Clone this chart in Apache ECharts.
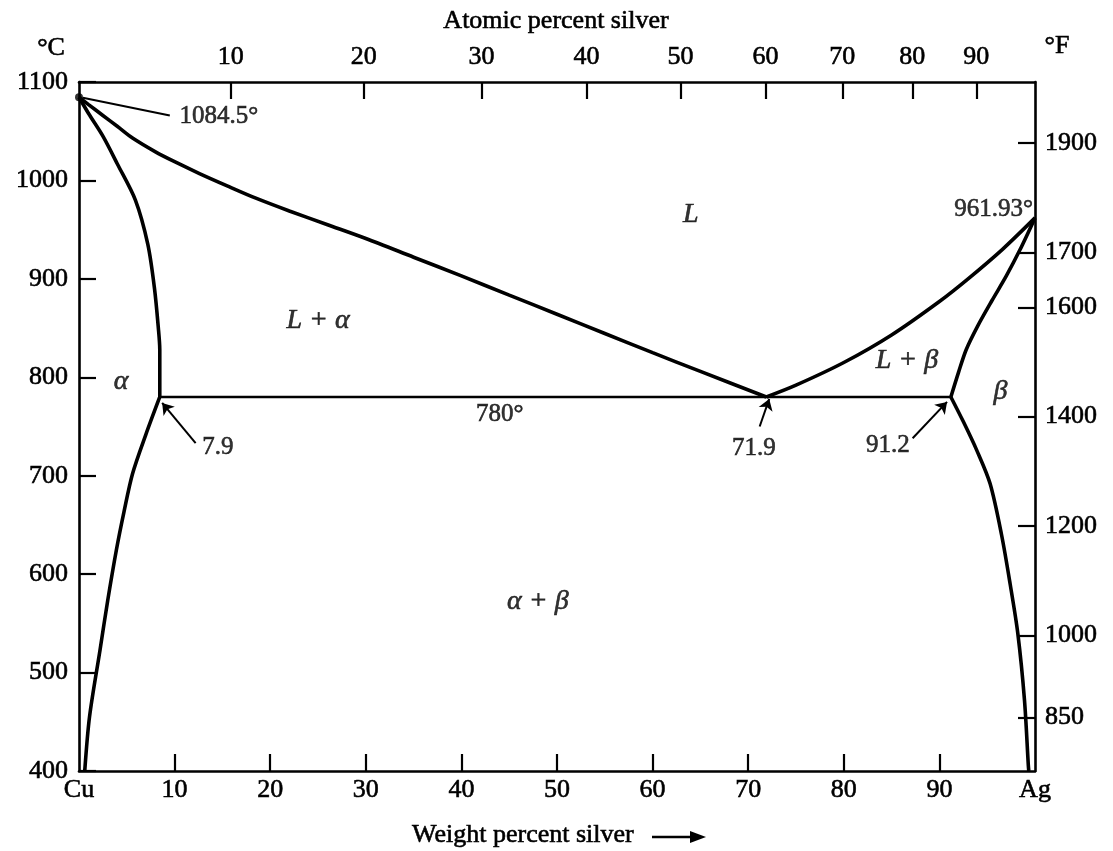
<!DOCTYPE html>
<html><head><meta charset="utf-8">
<script src="https://cdn.jsdelivr.net/npm/echarts@6/dist/echarts.min.js"></script>
<style>html,body{margin:0;padding:0;background:#fff}#c{width:1113px;height:851px}</style>
</head><body><div id="c"></div>
<script>
// ---- axis ticks / labels ----
const wtTickValues = [10,20,30,40,50,60,70,80,90];
const wtLabelValues = [0,10,20,30,40,50,60,70,80,90,100];
const wtEndNames = {0:'Cu', 100:'Ag'};
const atomicTickLabels = [10,20,30,40,50,60,70,80,90];
const fahrenheitTicks = [850,1000,1200,1400,1600,1700,1900];
const M_AG = 107.87, M_CU = 63.55;

// ---- phase boundaries (wt% Ag, °C) ----
const liquidusCu = [[0,1084.5],[1,1077],[2.5,1066],[4,1055],[5.6,1043],[8,1029],[10,1019],[12.6,1007],[15.5,994.5],[18.5,982],[22,969],[26,955],[30,941],[35,922],[40,903],[45,883.5],[50,864],[55,844.5],[60,825],[65,806],[71.9,780]];
const liquidusAg = [[71.9,780],[75,792],[80,815],[85,843],[90,877],[93,900],[96.6,930],[100,961.93]];
const solidusCu = [[0,1084.5],[1,1068],[2.5,1045],[4,1017],[5.9,980],[7.2,935],[7.9,890],[8.3,850],[8.45,828],[8.45,780]];
const solvusCu = [[8.45,780],[7,742],[5.6,702],[4.7,663],[3.9,624],[3,573],[2.2,523],[1.1,455],[0.6,400]];
const solidusAg = [[91.2,780],[92,805],[92.8,828],[94,852],[95.5,878],[97,903],[98.4,929],[100,961.93]];
const solvusAg = [[91.2,780],[92.5,755],[93.9,726],[95.3,692],[96.5,640],[97.4,590],[98.2,540],[98.9,472],[99.3,406],[99.35,400]];
const eutecticLine = [[8.45,780],[91.2,780]];

// ---- annotations ----
const regionLabels = [
  {text:'L', at:[64,965]},
  {text:'L + α', at:[25,858]},
  {text:'α', at:[4.4,796]},
  {text:'L + β', at:[86.6,817]},
  {text:'β', at:[96.4,785]},
  {text:'α + β', at:[48,572]}
];
const valueLabels = [
  {text:'1084.5°', at:[10.5,1065], align:'left'},
  {text:'961.93°', at:[99.8,971], align:'right'},
  {text:'780°', at:[44,762], align:'center'},
  {text:'7.9', at:[12.9,729], align:'left'},
  {text:'71.9', at:[70.6,728], align:'center'},
  {text:'91.2', at:[86.9,731], align:'right'}
];
const arrows = [
  {from:[12.2,733], to:[8.7,774], head:true},
  {from:[71.2,750], to:[72.2,778], head:true},
  {from:[87.2,738], to:[90.8,775], head:true},
  {from:[9.5,1066], to:[0.4,1084], head:false}
];

const atToWt = a => 100*a*M_AG/(a*M_AG + (100-a)*M_CU);
const fToC = f => (f-32)*5/9;
const atomicPositions = atomicTickLabels.map(atToWt);
const fPositions = fahrenheitTicks.map(fToC);

const FONT = '"Liberation Serif","Times New Roman",serif';
const axisLineStyle = {color:'#000', width:2.6};
const tickStyle = {color:'#000', width:2.2};
const heavy = {textBorderColor:'#000', textBorderWidth:0.6};
const lblStyle = {color:'#000', fontFamily:FONT, fontSize:26, ...heavy};

const chart = echarts.init(document.getElementById('c'), null, {renderer:'canvas'});

function boundary(name, data, w) {
  return {name, type:'line', data, showSymbol:false, symbol:'none', smooth:0.3,
    lineStyle:{color:'#000', width:w}, silent:true, z:3, xAxisIndex:0, yAxisIndex:0};
}

const option = {
  backgroundColor:'#fff',
  animation:false,
  grid:{left:79, right:78, top:82, bottom:80, containLabel:false},
  xAxis:[
    {type:'value', position:'bottom', min:0, max:100, interval:10,
     axisLine:{show:true, onZero:false, lineStyle:axisLineStyle},
     axisTick:{show:true, inside:true, length:17, lineStyle:tickStyle, customValues:wtTickValues},
     axisLabel:{...lblStyle, margin:6, customValues:wtLabelValues,
       formatter:v => wtEndNames[v] !== undefined ? wtEndNames[v] : String(v)},
     splitLine:{show:false}},
    {type:'value', position:'top', min:0, max:100,
     axisLine:{show:true, onZero:false, lineStyle:axisLineStyle},
     axisTick:{show:true, inside:true, length:17, lineStyle:tickStyle, customValues:atomicPositions},
     axisLabel:{...lblStyle, margin:12, customValues:atomicPositions,
       formatter:v => { const i = atomicPositions.findIndex(p => Math.abs(p-v) < 1e-6); return i>=0 ? String(atomicTickLabels[i]) : ''; }},
     splitLine:{show:false}}
  ],
  yAxis:[
    {type:'value', position:'left', min:400, max:1100, interval:100,
     axisLine:{show:true, onZero:false, lineStyle:axisLineStyle},
     axisTick:{show:true, inside:true, length:17, lineStyle:tickStyle},
     axisLabel:{...lblStyle, margin:11, formatter:v => String(v)},
     splitLine:{show:false}},
    {type:'value', position:'right', min:400, max:1100,
     axisLine:{show:true, onZero:false, lineStyle:axisLineStyle},
     axisTick:{show:true, inside:true, length:17, lineStyle:tickStyle, customValues:fPositions},
     axisLabel:{...lblStyle, margin:10, customValues:fPositions,
       formatter:v => String(Math.round(v*9/5+32))},
     splitLine:{show:false}}
  ],
  series:[
    boundary('liquidusCu', liquidusCu, 3.6),
    boundary('liquidusAg', liquidusAg, 3.6),
    boundary('solidusCu', solidusCu, 3.6),
    boundary('solvusCu', solvusCu, 3.6),
    boundary('solidusAg', solidusAg, 3.6),
    boundary('solvusAg', solvusAg, 3.6),
    {name:'eutectic', type:'line', data:eutecticLine, showSymbol:false, symbol:'none',
     lineStyle:{color:'#000', width:2.4}, silent:true, z:3,
     markLine:{silent:true, animation:false, label:{show:false},
       data: arrows.map(a => [
         {coord:a.from, symbol:'none'},
         {coord:a.to, symbol:a.head ? 'arrow' : 'none', symbolSize:11}
       ]),
       lineStyle:{color:'#000', width:2, type:'solid'}}},
    {name:'meltCu', type:'scatter', data:[liquidusCu[0]], symbol:'circle', symbolSize:8,
     itemStyle:{color:'#000'}, silent:true, z:4},
    {name:'regions', type:'scatter', symbolSize:0, silent:true, z:5,
     data: regionLabels.map(r => ({value:r.at, label:{show:true, position:'inside', formatter:r.text,
       fontFamily:FONT, fontStyle:'italic', fontSize:28, color:'#000', ...heavy}}))},
    {name:'values', type:'scatter', symbolSize:0, silent:true, z:5,
     data: valueLabels.map(r => ({value:r.at, label:{show:true, position:'inside', formatter:r.text,
       align:r.align, verticalAlign:'middle', fontFamily:FONT, fontSize:25, color:'#000', ...heavy}}))}
  ],
  graphic:[
    {type:'text', x:51, y:48, style:{text:'°C', fill:'#000', stroke:'#000', lineWidth:0.6, font:'26px '+FONT, align:'center', verticalAlign:'middle'}},
    {type:'text', x:1057, y:46, style:{text:'°F', fill:'#000', stroke:'#000', lineWidth:0.6, font:'26px '+FONT, align:'center', verticalAlign:'middle'}},
    {type:'text', x:556, y:21, style:{text:'Atomic percent silver', fill:'#000', stroke:'#000', lineWidth:0.6, font:'26px '+FONT, align:'center', verticalAlign:'middle'}},
    {type:'text', x:412, y:835, style:{text:'Weight percent silver', fill:'#000', stroke:'#000', lineWidth:0.6, font:'26px '+FONT, align:'left', verticalAlign:'middle'}},
    {type:'line', shape:{x1:652, y1:837, x2:695, y2:837}, style:{stroke:'#000', lineWidth:2.5}},
    {type:'polygon', shape:{points:[[690,831],[706,837],[690,843]]}, style:{fill:'#000'}}
  ]
};
chart.setOption(option);
</script>
</body></html>
